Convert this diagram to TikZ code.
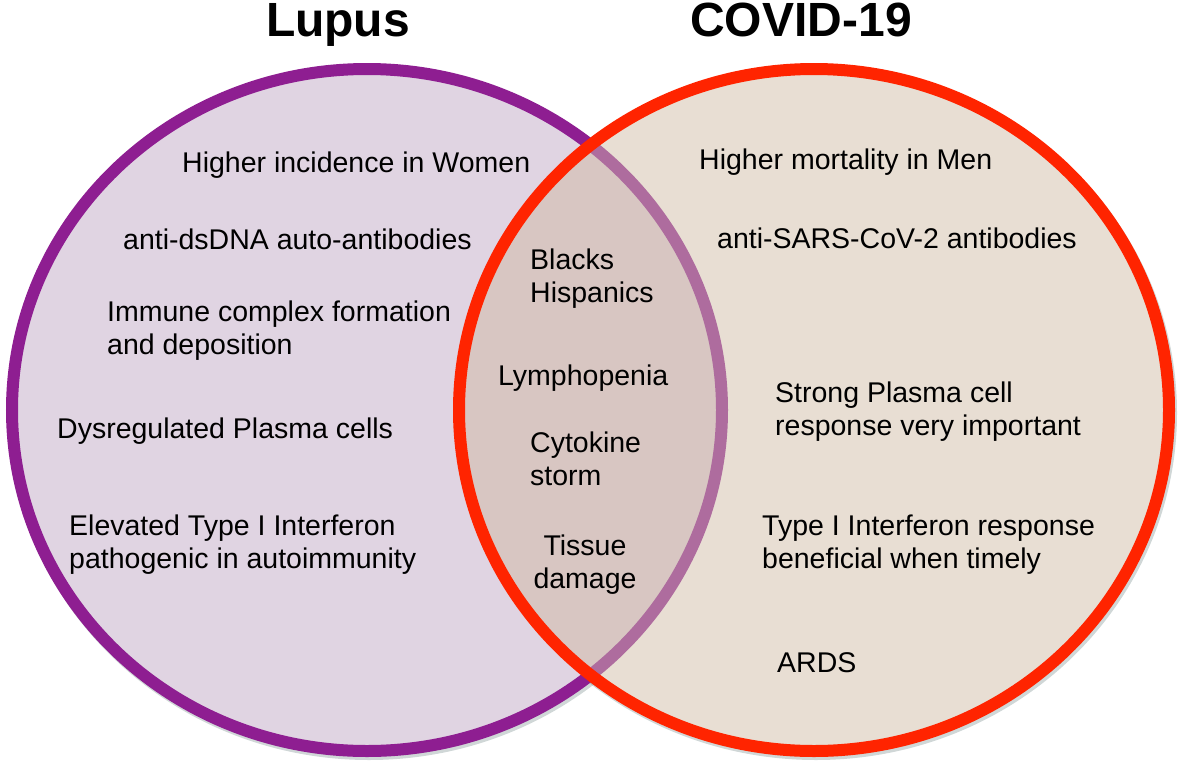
\documentclass[tikz,border=0pt]{standalone}
\usepackage{fontspec}
\setmainfont{Liberation Sans}
\definecolor{lupusline}{RGB}{142,30,145}
\definecolor{lupusfill}{RGB}{224,212,226}
\definecolor{covidline}{RGB}{255,36,0}
\definecolor{covidfill}{RGB}{232,222,211}
\definecolor{interfill}{RGB}{216,198,194}
\definecolor{interline}{RGB}{174,108,158}
\definecolor{shadowc}{RGB}{120,140,140}
\begin{document}
\begin{tikzpicture}[x=1pt,y=-1pt,
  lbl/.style={anchor=base west, inner sep=0pt, font=\fontsize{28.5}{33.5}\selectfont},
  lblc/.style={anchor=base, inner sep=0pt, font=\fontsize{28.5}{33.5}\selectfont},
  ttl/.style={anchor=base, inner sep=0pt, font=\fontsize{48}{55}\selectfont\bfseries},
  ring/.style={line width=12pt}]
\useasboundingbox (0,0) rectangle (1181,766);
% shadows
\fill[shadowc, opacity=0.35] (369,413) ellipse [x radius=361pt, y radius=347pt];
\fill[shadowc, opacity=0.35] (816,413) ellipse [x radius=361pt, y radius=347pt];
% Lupus circle
\draw[ring, lupusline, fill=lupusfill] (367,410) ellipse [x radius=355pt, y radius=341pt];
% COVID circle fill
\fill[covidfill] (814,410) ellipse [x radius=355pt, y radius=341pt];
% overlap
\begin{scope}
  \clip (814,410) ellipse [x radius=355pt, y radius=341pt];
  \fill[interfill] (367,410) ellipse [x radius=355pt, y radius=341pt];
  \draw[ring, interline] (367,410) ellipse [x radius=355pt, y radius=341pt];
\end{scope}
\draw[ring, covidline] (814,410) ellipse [x radius=355pt, y radius=341pt];
% titles
\node[ttl] (tl) at (338,36) {Lupus};
\node[ttl] (tc) at (801,36) {COVID-19};
% Lupus texts
\node[lbl] (l1) at (182,172) {Higher incidence in Women};
\node[lbl] (l2) at (123,249) {anti-dsDNA auto-antibodies};
\node[lbl] (l3) at (107,321) {\begin{tabular}[t]{@{}l@{}}Immune complex formation\\and deposition\end{tabular}};
\node[lbl] (l4) at (57,438) {Dysregulated Plasma cells};
\node[lbl] (l5) at (69,535) {\begin{tabular}[t]{@{}l@{}}Elevated Type I Interferon\\pathogenic in autoimmunity\end{tabular}};
% shared texts
\node[lbl] (s1) at (530,269) {\begin{tabular}[t]{@{}l@{}}Blacks\\Hispanics\end{tabular}};
\node[lbl] (s2) at (498,385) {Lymphopenia};
\node[lbl] (s3) at (530,452) {\begin{tabular}[t]{@{}l@{}}Cytokine\\storm\end{tabular}};
\node[lblc] (s4) at (585,555) {\begin{tabular}[t]{@{}c@{}}Tissue\\damage\end{tabular}};
% COVID texts
\node[lbl] (c1) at (699,169) {Higher mortality in Men};
\node[lbl] (c2) at (717,248) {anti-SARS-CoV-2 antibodies};
\node[lbl] (c3) at (775,402) {\begin{tabular}[t]{@{}l@{}}Strong Plasma cell\\response very important\end{tabular}};
\node[lbl] (c4) at (762,535) {\begin{tabular}[t]{@{}l@{}}Type I Interferon response\\beneficial when timely\end{tabular}};
\node[lbl] (c5) at (777,672) {ARDS};
\end{tikzpicture}
\end{document}
